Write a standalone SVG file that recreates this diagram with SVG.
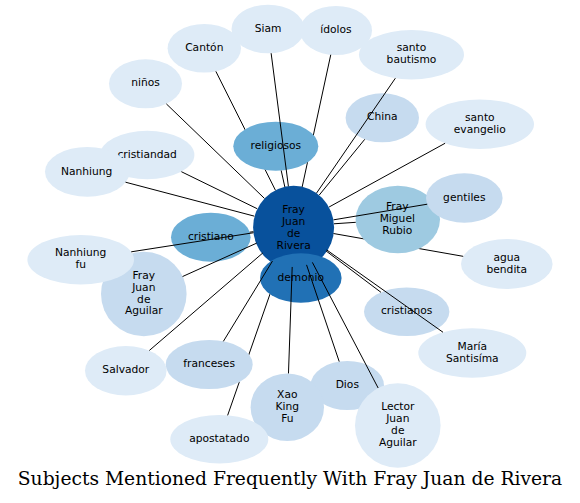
<svg xmlns="http://www.w3.org/2000/svg" width="580" height="503" viewBox="0 0 580 503">
<style>
text{font-family:"DejaVu Sans","Liberation Sans",sans-serif;font-size:10.7px;fill:#000;text-anchor:middle}
.c0{fill:#08519c}.c1{fill:#2171b5}.c2{fill:#6baed6}.c3{fill:#9ecae1}.c4{fill:#c6dbef}.c5{fill:#deebf7}
#edges line{stroke:#000;stroke-width:1}
.title{font-family:"DejaVu Serif","Liberation Serif",serif;font-size:18.7px}
</style>
<defs>
<mask id="behindRel" maskUnits="userSpaceOnUse" x="0" y="0" width="580" height="503">
<rect width="580" height="503" fill="#fff"/><ellipse cx="275.8" cy="146.2" rx="42.5" ry="24.5" fill="#000"/>
</mask>
<mask id="behindFMR" maskUnits="userSpaceOnUse" x="0" y="0" width="580" height="503">
<rect width="580" height="503" fill="#fff"/><ellipse cx="397.8" cy="219.5" rx="42.2" ry="33.8" fill="#000"/>
</mask>
<mask id="behindFrDe" maskUnits="userSpaceOnUse" x="0" y="0" width="580" height="503">
<rect width="580" height="503" fill="#fff"/><ellipse cx="209.2" cy="364.5" rx="43.5" ry="24.5" fill="#000"/><ellipse cx="300.8" cy="278" rx="40.8" ry="24.7" fill="#000"/>
</mask>
</defs>
<rect width="580" height="503" fill="#fff"/>
<g id="nodes">
<g id="n-rivera"><ellipse class="c0" cx="293.6" cy="227.5" rx="40.5" ry="41.8"/><text x="293.6" y="213.3">Fray</text><text x="293.6" y="225.1">Juan</text><text x="293.6" y="236.9">de</text><text x="293.6" y="248.7">Rivera</text></g>
<g id="n-demonio"><ellipse class="c1" cx="300.8" cy="278" rx="40.8" ry="24.7"/><text x="300.8" y="280.6">demonio</text></g>
<g id="n-religiosos"><ellipse class="c2" cx="275.8" cy="146.2" rx="42.5" ry="24.5"/><text x="275.8" y="148.8">religiosos</text></g>
<g id="n-cristiano"><ellipse class="c2" cx="210.8" cy="237.2" rx="39.8" ry="24.5"/><text x="210.8" y="239.8">cristiano</text></g>
<g id="n-rubio"><ellipse class="c3" cx="397.8" cy="219.5" rx="42.2" ry="33.8"/><text x="397.3" y="210.3">Fray</text><text x="397.3" y="222.1">Miguel</text><text x="397.3" y="233.9">Rubio</text></g>
<g id="n-gentiles"><ellipse class="c4" cx="464.3" cy="198" rx="38.3" ry="24.7"/><text x="464.3" y="200.6">gentiles</text></g>
<g id="n-china"><ellipse class="c4" cx="382.3" cy="117.8" rx="36.7" ry="24.5"/><text x="382.3" y="120.4">China</text></g>
<g id="n-cristianos"><ellipse class="c4" cx="406.7" cy="311.7" rx="42.7" ry="24.3"/><text x="406.7" y="314.3">cristianos</text></g>
<g id="n-maria"><ellipse class="c5" cx="472.3" cy="353" rx="54" ry="24.7"/><text x="472.3" y="349.7">María</text><text x="472.3" y="361.5">Santisíma</text></g>
<g id="n-aguilar"><ellipse class="c4" cx="143.8" cy="294" rx="42.8" ry="42.2"/><text x="143.8" y="278.9">Fray</text><text x="143.8" y="290.7">Juan</text><text x="143.8" y="302.5">de</text><text x="143.8" y="314.3">Aguilar</text></g>
<g id="n-nanhiungfu"><ellipse class="c5" cx="80.7" cy="259.7" rx="53.3" ry="24.7"/><text x="80.7" y="256.4">Nanhiung</text><text x="80.7" y="268.2">fu</text></g>
<g id="n-franceses"><ellipse class="c4" cx="209.2" cy="364.5" rx="43.5" ry="24.5"/><text x="209.2" y="367.1">franceses</text></g>
<g id="n-dios"><ellipse class="c4" cx="347.3" cy="385.5" rx="36.7" ry="24.5"/><text x="347.3" y="388.1">Dios</text></g>
<g id="n-xao"><ellipse class="c4" cx="287.3" cy="407.2" rx="36.7" ry="33.8"/><text x="287.3" y="398">Xao</text><text x="287.3" y="409.8">King</text><text x="287.3" y="421.6">Fu</text></g>
<g id="n-apostatado"><ellipse class="c5" cx="219.3" cy="439.2" rx="49" ry="24.2"/><text x="219.3" y="441.8">apostatado</text></g>
<g id="n-lector"><ellipse class="c5" cx="397.8" cy="425.5" rx="42.8" ry="42.2"/><text x="397.8" y="410.4">Lector</text><text x="397.8" y="422.2">Juan</text><text x="397.8" y="434">de</text><text x="397.8" y="445.8">Aguilar</text></g>
<g id="n-ninos"><ellipse class="c5" cx="145.5" cy="83.8" rx="36.5" ry="24.5"/><text x="145.5" y="86.4">niños</text></g>
<g id="n-canton"><ellipse class="c5" cx="204.3" cy="48.3" rx="36.7" ry="24.3"/><text x="204.3" y="50.9">Cantón</text></g>
<g id="n-siam"><ellipse class="c5" cx="268" cy="29" rx="36.5" ry="24.3"/><text x="268" y="31.6">Siam</text></g>
<g id="n-idolos"><ellipse class="c5" cx="336" cy="30.5" rx="36" ry="24.5"/><text x="336" y="33.1">ídolos</text></g>
<g id="n-bautismo"><ellipse class="c5" cx="411.5" cy="54.7" rx="52.5" ry="24.7"/><text x="411.5" y="51.4">santo</text><text x="411.5" y="63.2">bautismo</text></g>
<g id="n-evangelio"><ellipse class="c5" cx="479.8" cy="124.2" rx="54.2" ry="24.8"/><text x="479.8" y="120.9">santo</text><text x="479.8" y="132.7">evangelio</text></g>
<g id="n-cristiandad"><ellipse class="c5" cx="147.2" cy="155" rx="47.2" ry="24.2"/><text x="147.2" y="157.6">cristiandad</text></g>
<g id="n-nanhiung"><ellipse class="c5" cx="87.3" cy="171.8" rx="42.3" ry="24.9"/><text x="86.7" y="174.6">Nanhiung</text></g>
<g id="n-agua"><ellipse class="c5" cx="506.8" cy="264" rx="45.8" ry="25"/><text x="506.8" y="260.7">agua</text><text x="506.8" y="272.5">bendita</text></g>
<g id="n-salvador"><ellipse class="c5" cx="125.8" cy="370.7" rx="40.8" ry="24.7"/><text x="125.8" y="373.3">Salvador</text></g>
</g>
<g id="edges">
<line x1="284.84" y1="186.96" x2="281.19" y2="170.5"/>
<line x1="253.44" y1="231.69" x2="249.75" y2="232.17"/>
<line x1="334.01" y1="223.79" x2="355.75" y2="222.32"/>
<line x1="319.2" y1="195.12" x2="364.74" y2="139.32"/>
<line x1="333.55" y1="219.83" x2="427.22" y2="204.19"/>
<line x1="325.95" y1="250.87" x2="380.96" y2="292.31"/>
<line x1="256.68" y1="243.14" x2="182.55" y2="276.54"/>
<line x1="272.47" y1="261.05" x2="223.37" y2="341.34"/>
<line x1="292.19" y1="266.98" x2="288.48" y2="373.42"/>
<line x1="306.56" y1="264.87" x2="339.23" y2="361.6"/>
<line x1="264.44" y1="198.4" x2="166.36" y2="103.9"/>
<line x1="275.46" y1="190.29" x2="215.86" y2="71.36" mask="url(#behindRel)"/>
<line x1="288.4" y1="186.34" x2="271.14" y2="53.21"/>
<line x1="302.16" y1="186.92" x2="330.76" y2="54.74" mask="url(#behindRel)"/>
<line x1="316.52" y1="193.11" x2="395.37" y2="78.21"/>
<line x1="329.09" y1="207" x2="445.12" y2="143.25"/>
<line x1="257.21" y1="208.73" x2="181.37" y2="171.69"/>
<line x1="254.44" y1="216.18" x2="125.5" y2="182.2"/>
<line x1="253.58" y1="232.74" x2="131.21" y2="251.82"/>
<line x1="333.49" y1="233.52" x2="463.21" y2="256.33" mask="url(#behindFMR)"/>
<line x1="326.66" y1="249.9" x2="443" y2="332.26"/>
<line x1="262.88" y1="252.9" x2="149.3" y2="350.51"/>
<line x1="280.24" y1="264.74" x2="227.63" y2="415.35" mask="url(#behindFrDe)"/>
<line x1="312.39" y1="262.38" x2="378.16" y2="388"/>
</g>
<text class="title" x="290" y="485">Subjects Mentioned Frequently With Fray Juan de Rivera</text>
</svg>
